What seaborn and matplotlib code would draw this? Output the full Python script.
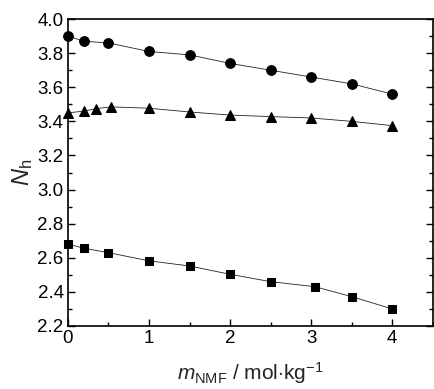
import numpy as np
import pandas as pd
import matplotlib
matplotlib.use("Agg")
import matplotlib.pyplot as plt
import seaborn as sns
from matplotlib.ticker import MultipleLocator

sns.set_style("ticks")
plt.rcParams['font.family'] = ['Liberation Sans', 'DejaVu Sans']
plt.rcParams['mathtext.fontset'] = 'custom'
plt.rcParams['mathtext.rm'] = 'Liberation Sans'
plt.rcParams['mathtext.it'] = 'Liberation Sans:italic'

# Dados
x_circ = [0, 0.2, 0.5, 1.0, 1.5, 2.0, 2.5, 3.0, 3.5, 4.0]
y_circ = [3.90, 3.87, 3.86, 3.81, 3.79, 3.74, 3.70, 3.66, 3.62, 3.56]

x_tri = [0, 0.2, 0.35, 0.53, 1.0, 1.5, 2.0, 2.5, 3.0, 3.5, 4.0]
y_tri = [3.45, 3.46, 3.475, 3.485, 3.477, 3.455, 3.437, 3.428, 3.42, 3.40, 3.375]

x_sq = [0, 0.2, 0.5, 1.0, 1.5, 2.0, 2.5, 3.05, 3.5, 4.0]
y_sq = [2.68, 2.656, 2.63, 2.582, 2.552, 2.503, 2.46, 2.43, 2.372, 2.30]

series = [
    (x_circ, y_circ, 'o', 7),
    (x_tri, y_tri, '^', 7.5),
    (x_sq, y_sq, 's', 6.3),
]

fig = plt.figure(figsize=(4.35, 3.89), dpi=100)
ax = fig.add_axes([0.156, 0.162, 0.839, 0.789])

for xs, ys, mk, ms in series:
    df = pd.DataFrame({'x': xs, 'y': ys})
    sns.lineplot(data=df, x='x', y='y', ax=ax, color='#222222', linewidth=0.6,
                 marker=mk, markersize=ms, markeredgecolor='black',
                 markerfacecolor='black', clip_on=False)

ax.set_xlim(0, 4.5)
ax.set_ylim(2.2, 4.0)
ax.xaxis.set_major_locator(MultipleLocator(1))
ax.xaxis.set_minor_locator(MultipleLocator(0.5))
ax.yaxis.set_major_locator(MultipleLocator(0.2))
ax.yaxis.set_minor_locator(MultipleLocator(0.1))
ax.tick_params(which='both', direction='in', right=True, top=False,
               labelsize=13.5, width=1, pad=3, colors='black')
ax.tick_params(which='major', length=5)
ax.tick_params(which='minor', length=3)
for s in ax.spines.values():
    s.set_linewidth(1.2)
    s.set_color('black')

ax.set_xlabel(r'$\mathit{m}_{\mathrm{NMF}}$ / mol$\cdot$kg$^{\mathrm{-1}}$', fontsize=15, labelpad=9)
ax.set_ylabel(r'$\mathit{N}_{\mathrm{h}}$', fontsize=17, labelpad=2)

fig.savefig('out.png', dpi=100)
